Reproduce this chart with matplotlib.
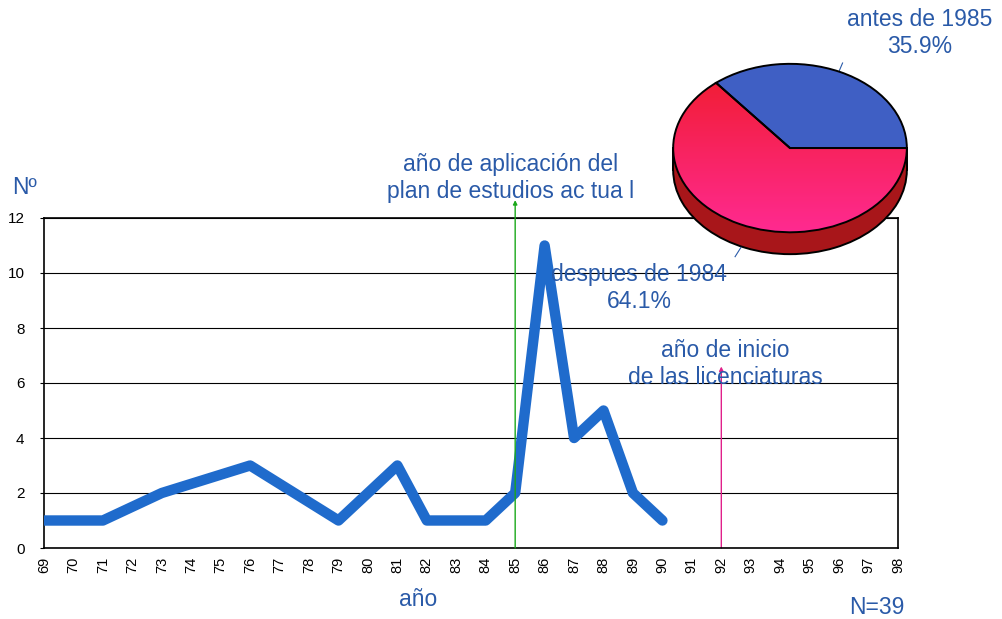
import numpy as np
import matplotlib
matplotlib.use("Agg")
from matplotlib import pyplot as plt
from matplotlib.patches import Rectangle

plt.rcParams['font.family'] = ['Liberation Sans', 'DejaVu Sans']

# años con datos (el resto se une con la linea)
years = [69, 71, 73, 76, 79, 81, 82, 83, 84, 85, 86, 87, 88, 89, 90]
counts = [1, 1, 2, 3, 1, 3, 1, 1, 1, 2, 11, 4, 5, 2, 1]
tick_years = list(range(69, 99))
yticks = [0, 2, 4, 6, 8, 10, 12]

pie_labels = ["antes de 1985", "despues de 1984"]
pie_counts = [14, 25]
plan_year = 85   # plan de estudios actual
lic_year = 92    # inicio de las licenciaturas

txt_col = '#2a5aa8'
line_col = '#1f6bcc'
W, H = 1003, 619

fig = plt.figure(figsize=(W / 100, H / 100), dpi=100)
fig.patch.set_facecolor('white')

def fx(px):
    return px / W

def fy(py):
    return 1 - py / H

# grafico de linea
ax = fig.add_axes([fx(44), fy(548), fx(898) - fx(44), fy(218) - fy(548)])
ax.set_zorder(1)
ax.plot(years, counts, color=line_col, lw=7.5, solid_capstyle='round',
        solid_joinstyle='round', zorder=3)
ax.set_xlim(69, 98)
ax.set_ylim(0, 12)
ax.set_xticks(tick_years)
ax.set_xticklabels([str(y) for y in tick_years], rotation=90, fontsize=10.5)
ax.set_yticks(yticks)
ax.set_yticklabels([str(v) for v in yticks], fontsize=11)
ax.tick_params(axis='x', length=0, pad=6)
ax.tick_params(axis='y', length=3, pad=11)
ax.yaxis.grid(True, color='black', lw=0.8)
for s in ax.spines.values():
    s.set_color('black')
    s.set_linewidth(1.2)

ax.annotate('', xy=(plan_year, 12.65), xytext=(plan_year, 0),
            arrowprops=dict(arrowstyle='-|>', color='#1aa81a', lw=1,
                            mutation_scale=6, shrinkA=0, shrinkB=0),
            annotation_clip=False, zorder=4)
ax.annotate('', xy=(lic_year, 6.6), xytext=(lic_year, 0),
            arrowprops=dict(arrowstyle='-|>', color='#e0208a', lw=1,
                            mutation_scale=6, shrinkA=0, shrinkB=0),
            annotation_clip=False, zorder=2)

# pastel 3D
d = 0.26
pax = fig.add_axes([fx(672), fy(255), fx(908) - fx(672), fy(63) - fy(255)])
pax.set_zorder(2)
pax.pie([1], center=(0, -d), colors=['#a8161a'],
        wedgeprops=dict(edgecolor='black', linewidth=1.4))
pax.add_patch(Rectangle((-1, -d), 2, d, facecolor='#a8161a', edgecolor='none'))
pax.plot([-1, -1], [-d, 0], color='black', lw=1.4)
pax.plot([1, 1], [-d, 0], color='black', lw=1.4)
wedges, _ = pax.pie(pie_counts, startangle=0, counterclock=True,
                    colors=['#3f5fc4', 'none'],
                    wedgeprops=dict(edgecolor='black', linewidth=1.4))
for w in wedges:
    w.set_zorder(3)
grad = np.linspace(0, 1, 100).reshape(-1, 1)
cm = matplotlib.colors.LinearSegmentedColormap.from_list('rp', ['#f01c2c', '#ff2a90'])
im = pax.imshow(grad, cmap=cm, extent=(-1, 1, -1, 1), origin='upper',
                aspect='auto', zorder=2)
im.set_clip_path(wedges[1])
pax.plot([0.41, 0.45], [0.88, 1.01], color=txt_col, lw=0.8, clip_on=False)
pax.plot([-0.47, -0.42], [-1.29, -1.18], color=txt_col, lw=0.8, clip_on=False)
pax.set_xlim(-1.01, 1.01)
pax.set_ylim(-1 - d - 0.01, 1.01)
pax.set_aspect('auto')
pax.axis('off')

pct = [c / sum(pie_counts) * 100 for c in pie_counts]

# textos
fs = 16.5
fig.text(fx(920), fy(33), f"{pie_labels[0]}\n{pct[0]:.1f}%", ha='center',
         va='center', color=txt_col, fontsize=fs, zorder=5)
fig.text(fx(639), fy(288), f"{pie_labels[1]}\n{pct[1]:.1f}%", ha='center',
         va='center', color=txt_col, fontsize=fs, zorder=5)
fig.text(fx(511), fy(178), "año de aplicación del\nplan de estudios ac tua l",
         ha='center', va='center', color=txt_col, fontsize=fs, zorder=5)
fig.text(fx(725), fy(364), "año de inicio\nde las licenciaturas",
         ha='center', va='center', color=txt_col, fontsize=fs, zorder=5)
fig.text(fx(24), fy(188), "Nº", ha='center', va='center', color=txt_col,
         fontsize=fs, zorder=5)
fig.text(fx(418), fy(600), "año", ha='center', va='center', color=txt_col,
         fontsize=fs, zorder=5)
fig.text(fx(877), fy(607), f"N={sum(pie_counts)}", ha='center', va='center',
         color=txt_col, fontsize=fs, zorder=5)

fig.savefig("out.png", dpi=100)
